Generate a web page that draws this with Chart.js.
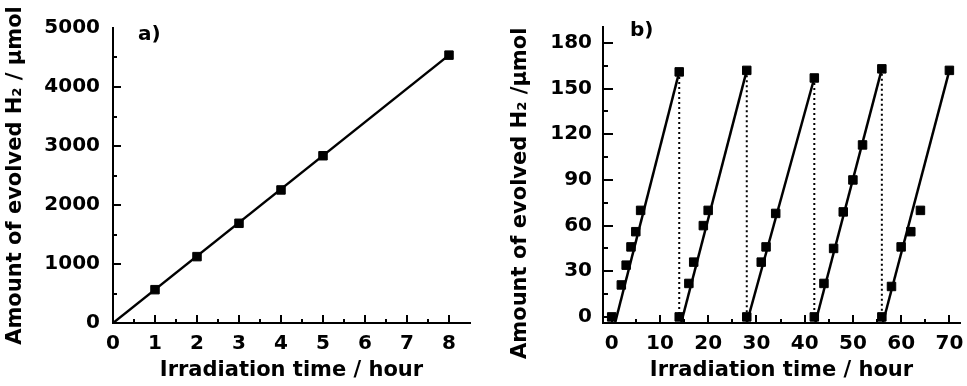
<!DOCTYPE html>
<html lang="en">
<head>
<meta charset="UTF-8" />
<title>Evolved H2 vs irradiation time</title>
<script src="https://cdn.jsdelivr.net/npm/chart.js@4.4.1/dist/chart.umd.min.js"></script>
<style>
  body { margin: 0; background: #fff; }
  canvas { position: absolute; top: 0; }
</style>
</head>
<body>
<canvas id="chartA" width="480" height="386" style="left:0px"></canvas>
<canvas id="chartB" width="487" height="386" style="left:480px"></canvas>
<script>
// panel a) continuous run
const timeA = [1, 2, 3, 4, 5, 8];
const h2A = [565, 1125, 1690, 2255, 2835, 4540];
const fitTimeA = [0, 8];
const fitH2A = [0, 4540];

// panel b) five repeated cycles
const timeB = [0, 2, 3, 4, 5, 6, 14,
               14, 16, 17, 19, 20, 28,
               28, 31, 32, 34, 42,
               42, 44, 46, 48, 50, 52, 56,
               56, 58, 60, 62, 64, 70];
const h2B = [0, 21, 34, 46, 56, 70, 161,
             0, 22, 36, 60, 70, 162,
             0, 36, 46, 68, 157,
             0, 22, 45, 69, 90, 113, 163,
             0, 20, 46, 56, 70, 162];
// fitted line of each cycle: starts on the x axis, ends at the last point
const fitStartB = [0.7, 14.4, 28, 42.2, 56.2];
const fitEndB = [14, 28, 42, 56, 70];
const fitTopB = [161, 162, 157, 163, 162];
// dotted drops between cycles
const dropTimeB = [14, 28, 42, 56];
const dropTopB = [161, 162, 157, 163];
const floorB = -4;

const FONT = '"DejaVu Sans", sans-serif';

// tick marks point into the plot, majors + minors
const innerTicks = {
  id: 'innerTicks',
  afterDraw(chart, args, opts) {
    const ctx = chart.ctx;
    const { left, bottom } = chart.chartArea;
    ctx.save();
    ctx.strokeStyle = '#000';
    ctx.lineWidth = 2;
    ['x', 'y'].forEach(id => {
      const s = chart.scales[id];
      const o = opts[id];
      const first = Math.ceil(s.min / o.minor - 1e-9) * o.minor;
      for (let v = first; v < s.max - 1e-6; v += o.minor) {
        const major = Math.abs(v / o.major - Math.round(v / o.major)) < 1e-6;
        const len = major ? o.majorLen : o.minorLen;
        const p = Math.round(s.getPixelForValue(v));
        ctx.beginPath();
        if (id === 'x') { ctx.moveTo(p, bottom); ctx.lineTo(p, bottom - len); }
        else { ctx.moveTo(left, p); ctx.lineTo(left + len, p); }
        ctx.stroke();
      }
    });
    ctx.fillStyle = '#000';
    ctx.font = 'bold 20px ' + FONT;
    ctx.fillText(opts.label.text, opts.label.x, opts.label.y);
    ctx.restore();
  }
};

// major ticks only at whole steps inside the range
function stepTicks(step) {
  return s => {
    const out = [];
    for (let v = Math.ceil(s.min / step - 1e-9) * step; v <= s.max + 1e-9; v += step) {
      out.push({ value: Math.round(v * 1000) / 1000 });
    }
    s.ticks = out;
  };
}

function axes(p) {
  return {
    x: {
      type: 'linear', min: p.xMin, max: p.xMax,
      grid: { display: false, drawTicks: false },
      border: { display: true, color: '#000', width: 2 },
      ticks: { color: '#000', padding: 9, callback: v => String(v),
               font: { family: FONT, size: 20, weight: 'bold' } },
      afterBuildTicks: stepTicks(p.xStep),
      afterFit: s => { s.height = 63; s.paddingLeft = 0; s.paddingRight = 0; },
      title: { display: true, text: 'Irradiation time / hour', color: '#000',
               font: { family: FONT, size: 21, weight: 'bold' }, padding: { top: 0, bottom: 3 } }
    },
    y: {
      type: 'linear', min: p.yMin, max: p.yMax,
      grid: { display: false, drawTicks: false },
      border: { display: true, color: '#000', width: 2 },
      ticks: { color: '#000', padding: p.yPad, callback: v => String(v),
               font: { family: FONT, size: 20, weight: 'bold' } },
      afterBuildTicks: stepTicks(p.yStep),
      afterFit: s => { s.width = p.yWidth; s.paddingTop = 0; s.paddingBottom = 0; },
      title: { display: true, text: p.yTitle, color: '#000',
               font: { family: FONT, size: 21, weight: 'bold' }, padding: { top: p.yTitlePad, bottom: 0 } }
    }
  };
}

const baseOpts = {
  responsive: false,
  animation: false,
  events: [],
  plugins: { legend: { display: false }, tooltip: { enabled: false } }
};

const pointStyle = { showLine: false, pointStyle: 'rect', pointRadius: 6, pointBorderWidth: 1,
                     backgroundColor: '#000', borderColor: '#000' };
const lineStyle = { showLine: true, borderColor: '#000', borderWidth: 2.5, pointRadius: 0 };

// ---- panel a)
new Chart(document.getElementById('chartA'), {
  type: 'scatter',
  data: {
    datasets: [
      { ...lineStyle, data: fitTimeA.map((t, i) => ({ x: t, y: fitH2A[i] })) },
      { ...pointStyle, data: timeA.map((t, i) => ({ x: t, y: h2A[i] })) }
    ]
  },
  options: {
    ...baseOpts,
    layout: { padding: { left: 0, right: 10, top: 28, bottom: 0 } },
    scales: axes({ xMin: 0, xMax: 8.5, xStep: 1, yMin: 0, yMax: 5000, yStep: 1000,
                   yPad: 13, yWidth: 113, yTitlePad: 3, yTitle: 'Amount of evolved H\u2082 / \u03bcmol' }),
    plugins: {
      ...baseOpts.plugins,
      innerTicks: { x: { major: 1, minor: 0.5, majorLen: 8, minorLen: 4 },
                    y: { major: 1000, minor: 500, majorLen: 8, minorLen: 4 },
                    label: { text: 'a)', x: 138, y: 40 } }
    }
  },
  plugins: [innerTicks]
});

// ---- panel b)
const dsB = [];
fitStartB.forEach((t0, i) => {
  dsB.push({ ...lineStyle, data: [{ x: t0, y: floorB }, { x: fitEndB[i], y: fitTopB[i] }] });
});
dropTimeB.forEach((t, i) => {
  dsB.push({ ...lineStyle, borderWidth: 2, borderDash: [2, 3], data: [{ x: t, y: dropTopB[i] }, { x: t, y: floorB }] });
});
dsB.push({ ...pointStyle, data: timeB.map((t, i) => ({ x: t, y: h2B[i] })) });

new Chart(document.getElementById('chartB'), {
  type: 'scatter',
  data: { datasets: dsB },
  options: {
    ...baseOpts,
    layout: { padding: { left: 0, right: 5, top: 27, bottom: 0 } },
    scales: axes({ xMin: -1.8, xMax: 72.2, xStep: 10, yMin: floorB, yMax: 190.5, yStep: 30,
                   yPad: 11, yWidth: 123, yTitlePad: 28,
                   yTitle: 'Amount of evolved H\u2082 /\u03bcmol\u00a0\u00a0\u00a0\u00a0\u00a0' }),
    plugins: {
      ...baseOpts.plugins,
      innerTicks: { x: { major: 10, minor: 5, majorLen: 8, minorLen: 4 },
                    y: { major: 30, minor: 15, majorLen: 10, minorLen: 5 },
                    label: { text: 'b)', x: 150, y: 36 } }
    }
  },
  plugins: [innerTicks]
});
</script>
</body>
</html>
